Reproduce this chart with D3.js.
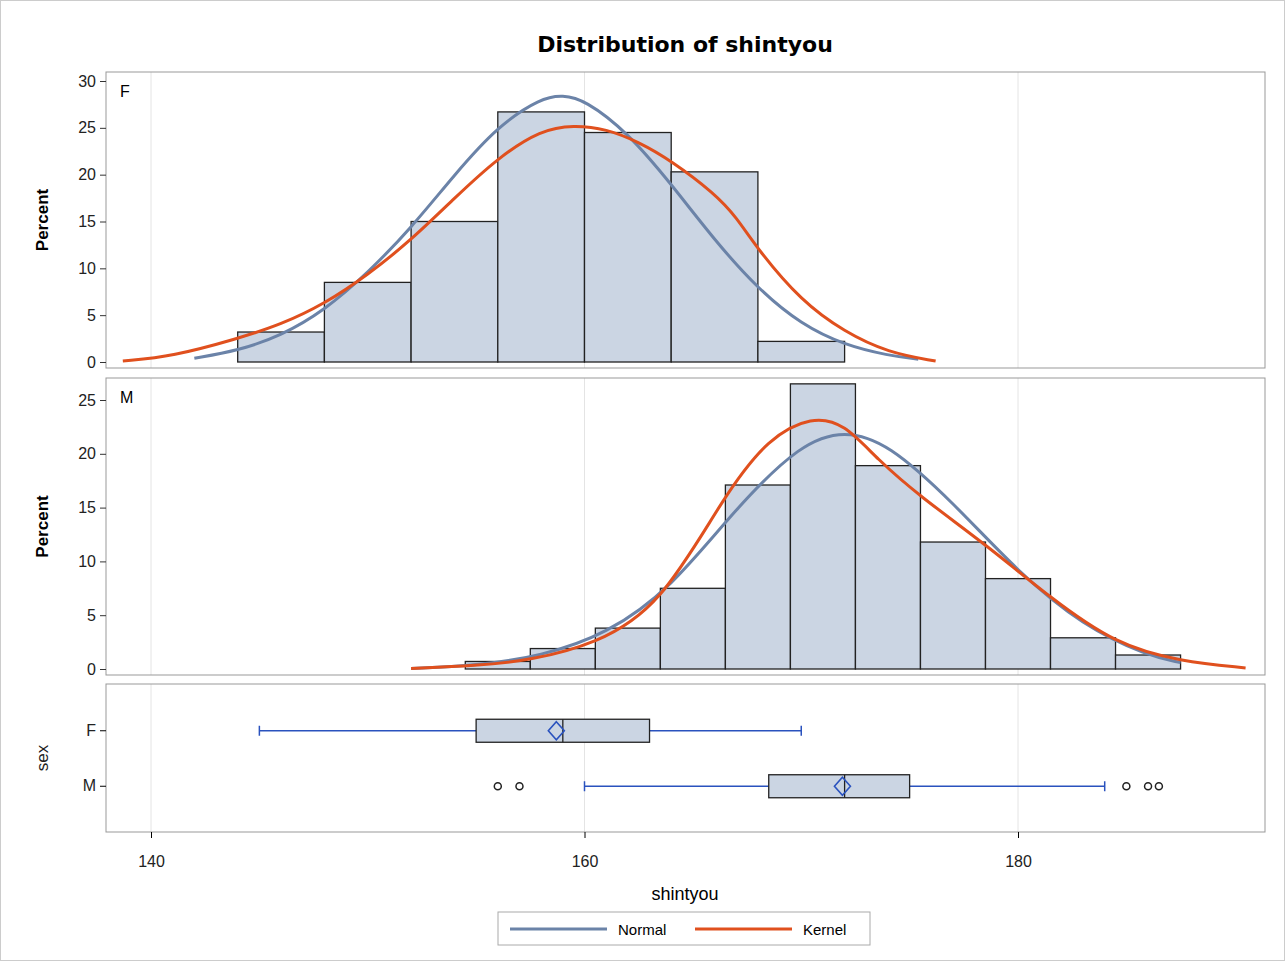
<!DOCTYPE html>
<html><head><meta charset="utf-8">
<script src="https://cdn.jsdelivr.net/npm/d3@7"></script>
<style>body{margin:0;background:#fff;font-family:"Liberation Sans",Arial,sans-serif}</style>
</head><body>
<svg id="chart" width="1285" height="961"></svg>
<script>
// histogram bins [lo, hi, percent]
const binsF = [[144,148,3.2],[148,152,8.5],[152,156,15],[156,160,26.7],[160,164,24.5],[164,168,20.3],[168,172,2.2]];
const binsM = [[154.5,157.5,0.7],[157.5,160.5,1.9],[160.5,163.5,3.8],[163.5,166.5,7.5],[166.5,169.5,17.1],[169.5,172.5,26.5],
  [172.5,175.5,18.9],[175.5,178.5,11.8],[178.5,181.5,8.4],[181.5,184.5,2.9],[184.5,187.5,1.3]];
// curves [x, percent]
const normalF = [[142,0.4],[144,1.2],[146,2.8],[148,5.5],[150,9.5],[152,14.3],[154,20],[156,25.2],[158,28.2],[159,28.5],[160,28],[162,24.5],[164,19],[166,13],[168,7.8],[170,4],[172,1.8],[174,0.7],[175.4,0.3]];
const kernelF = [[138.7,0.1],[141,0.6],[144,2.5],[146,4],[148,6.2],[150,9.3],[152,13],[154,17.5],[156,21.8],[158,24.8],[159.5,25.3],[161,24.9],[162.5,23.5],[164,21.5],[166,18],[167,15.5],[168,12],[170,6.5],[172,3.2],[174,1],[176.2,0.1]];
const normalM = [[152,0.05],[155,0.3],[158,1.2],[161,3.2],[164,7.5],[167,15],[170,21],[172,22.2],[174,21],[177,15.5],[180,9],[183,4],[186,1.2],[187.5,0.6]];
const kernelM = [[152,0.05],[155,0.3],[157.5,0.8],[160.5,2.3],[163.5,5.8],[166.5,16.3],[168.5,21.5],[170.5,23.5],[172,22.8],[173.5,19.5],[175.5,16],[178.5,11.6],[181.5,6.6],[184.5,2.3],[187.5,0.7],[190.5,0.1]];
// box plots
const boxes = [
  {sex:"F", lo:145, q1:155, med:159, q3:163, hi:170, mean:158.7, outliers:[]},
  {sex:"M", lo:160, q1:168.5, med:172, q3:175, hi:184, mean:171.9, outliers:[156,157,185,186,186.5]}
];
const xTicks = [140,160,180];

const svg = d3.select("#chart");
svg.append("rect").attr("x",0.5).attr("y",0.5).attr("width",1284).attr("height",960).attr("fill","none").attr("stroke","#ccc");
const L = 106, R = 1265;
const x = d3.scaleLinear().domain([140,180]).range([151,1018]);
const blue = "#6b83a8", red = "#e0501e", fill = "#cbd5e3";

svg.append("text").attr("x",685).attr("y",52).attr("text-anchor","middle")
  .attr("font-family","DejaVu Sans").attr("font-size",22).attr("font-weight","bold").text("Distribution of shintyou");

function grid(top, bot) {
  svg.append("g").selectAll("line").data(xTicks).join("line")
    .attr("x1",d=>x(d)).attr("x2",d=>x(d)).attr("y1",top).attr("y2",bot).attr("stroke","#e4e4e4");
}
function frame(top, bot) {
  svg.append("rect").attr("x",L).attr("y",top).attr("width",R-L).attr("height",bot-top)
    .attr("fill","none").attr("stroke","#999");
}

function histPanel(top, bot, yDomain, yRange, ticks, bins, nrm, ker, label) {
  const y = d3.scaleLinear().domain(yDomain).range(yRange);
  grid(top, bot);
  svg.append("g").selectAll("rect").data(bins).join("rect")
    .attr("x",d=>x(d[0])).attr("width",d=>x(d[1])-x(d[0]))
    .attr("y",d=>y(d[2])).attr("height",d=>y(0)-y(d[2]))
    .attr("fill",fill).attr("stroke","#222").attr("stroke-width",1.3);
  const line = d3.line().x(d=>x(d[0])).y(d=>y(d[1])).curve(d3.curveBasis);
  svg.append("path").attr("d",line(nrm)).attr("fill","none").attr("stroke",blue).attr("stroke-width",3);
  svg.append("path").attr("d",line(ker)).attr("fill","none").attr("stroke",red).attr("stroke-width",3);
  frame(top, bot);
  const ax = svg.append("g").attr("transform",`translate(${L},0)`)
    .call(d3.axisLeft(y).tickValues(ticks).tickSize(6).tickPadding(4));
  ax.select(".domain").remove();
  ax.selectAll("text").attr("font-size",16).attr("fill","#222");
  ax.selectAll("line").attr("stroke","#333");
  svg.append("text").attr("transform",`translate(48,${(top+bot)/2}) rotate(-90)`).attr("text-anchor","middle")
    .attr("font-size",17).attr("font-weight","bold").text("Percent");
  svg.append("text").attr("x",120).attr("y",top+25).attr("font-size",16).text(label);
}

histPanel(72, 368, [0,30], [362,81], [0,5,10,15,20,25,30], binsF, normalF, kernelF, "F");
histPanel(378, 675, [0,25], [669,400], [0,5,10,15,20,25], binsM, normalM, kernelM, "M");

// box panel
const bTop = 684, bBot = 832;
grid(bTop, bBot);
const yb = d3.scaleBand().domain(["F","M"]).range([703,814]).padding(0);
const bh = 23, bc = "#2a52be";
boxes.forEach(b => {
  const cy = yb(b.sex) + yb.bandwidth()/2;
  const g = svg.append("g");
  g.append("line").attr("x1",x(b.lo)).attr("x2",x(b.q1)).attr("y1",cy).attr("y2",cy).attr("stroke",bc).attr("stroke-width",1.5);
  g.append("line").attr("x1",x(b.q3)).attr("x2",x(b.hi)).attr("y1",cy).attr("y2",cy).attr("stroke",bc).attr("stroke-width",1.5);
  [b.lo,b.hi].forEach(v => g.append("line").attr("x1",x(v)).attr("x2",x(v)).attr("y1",cy-5).attr("y2",cy+5).attr("stroke",bc).attr("stroke-width",1.5));
  g.append("rect").attr("x",x(b.q1)).attr("y",cy-bh/2).attr("width",x(b.q3)-x(b.q1)).attr("height",bh)
    .attr("fill",fill).attr("stroke","#222").attr("stroke-width",1.3);
  g.append("line").attr("x1",x(b.med)).attr("x2",x(b.med)).attr("y1",cy-bh/2).attr("y2",cy+bh/2).attr("stroke","#222").attr("stroke-width",1.3);
  const mx = x(b.mean);
  g.append("path").attr("d",`M${mx},${cy-9}L${mx+8},${cy}L${mx},${cy+9}L${mx-8},${cy}Z`).attr("fill","none").attr("stroke",bc).attr("stroke-width",1.6);
  g.selectAll("circle").data(b.outliers).join("circle").attr("cx",d=>x(d)).attr("cy",cy).attr("r",3.5)
    .attr("fill","none").attr("stroke","#222").attr("stroke-width",1.5);
});
frame(bTop, bBot);
const ay = svg.append("g").attr("transform",`translate(${L},0)`).call(d3.axisLeft(yb).tickSize(6).tickPadding(4));
ay.select(".domain").remove();
ay.selectAll("text").attr("font-size",16).attr("fill","#222");
svg.append("text").attr("transform",`translate(48,${(bTop+bBot)/2}) rotate(-90)`).attr("text-anchor","middle")
  .attr("font-size",17).attr("fill","#222").text("sex");

// x axis
const axx = svg.append("g").attr("transform",`translate(0,${bBot})`).call(d3.axisBottom(x).tickValues(xTicks).tickSize(6).tickPadding(18));
axx.select(".domain").remove();
axx.selectAll("text").attr("font-size",16).attr("fill","#222");
svg.append("text").attr("x",685).attr("y",900).attr("text-anchor","middle").attr("font-size",18).text("shintyou");

// legend
const lg = svg.append("g");
lg.append("rect").attr("x",498).attr("y",912).attr("width",372).attr("height",33).attr("fill","none").attr("stroke","#aaa");
[["Normal",blue,510],["Kernel",red,695]].forEach(([t,c,lx]) => {
  lg.append("line").attr("x1",lx).attr("x2",lx+97).attr("y1",929).attr("y2",929).attr("stroke",c).attr("stroke-width",3);
  lg.append("text").attr("x",lx+108).attr("y",935).attr("font-size",15).text(t);
});
</script>
</body></html>
